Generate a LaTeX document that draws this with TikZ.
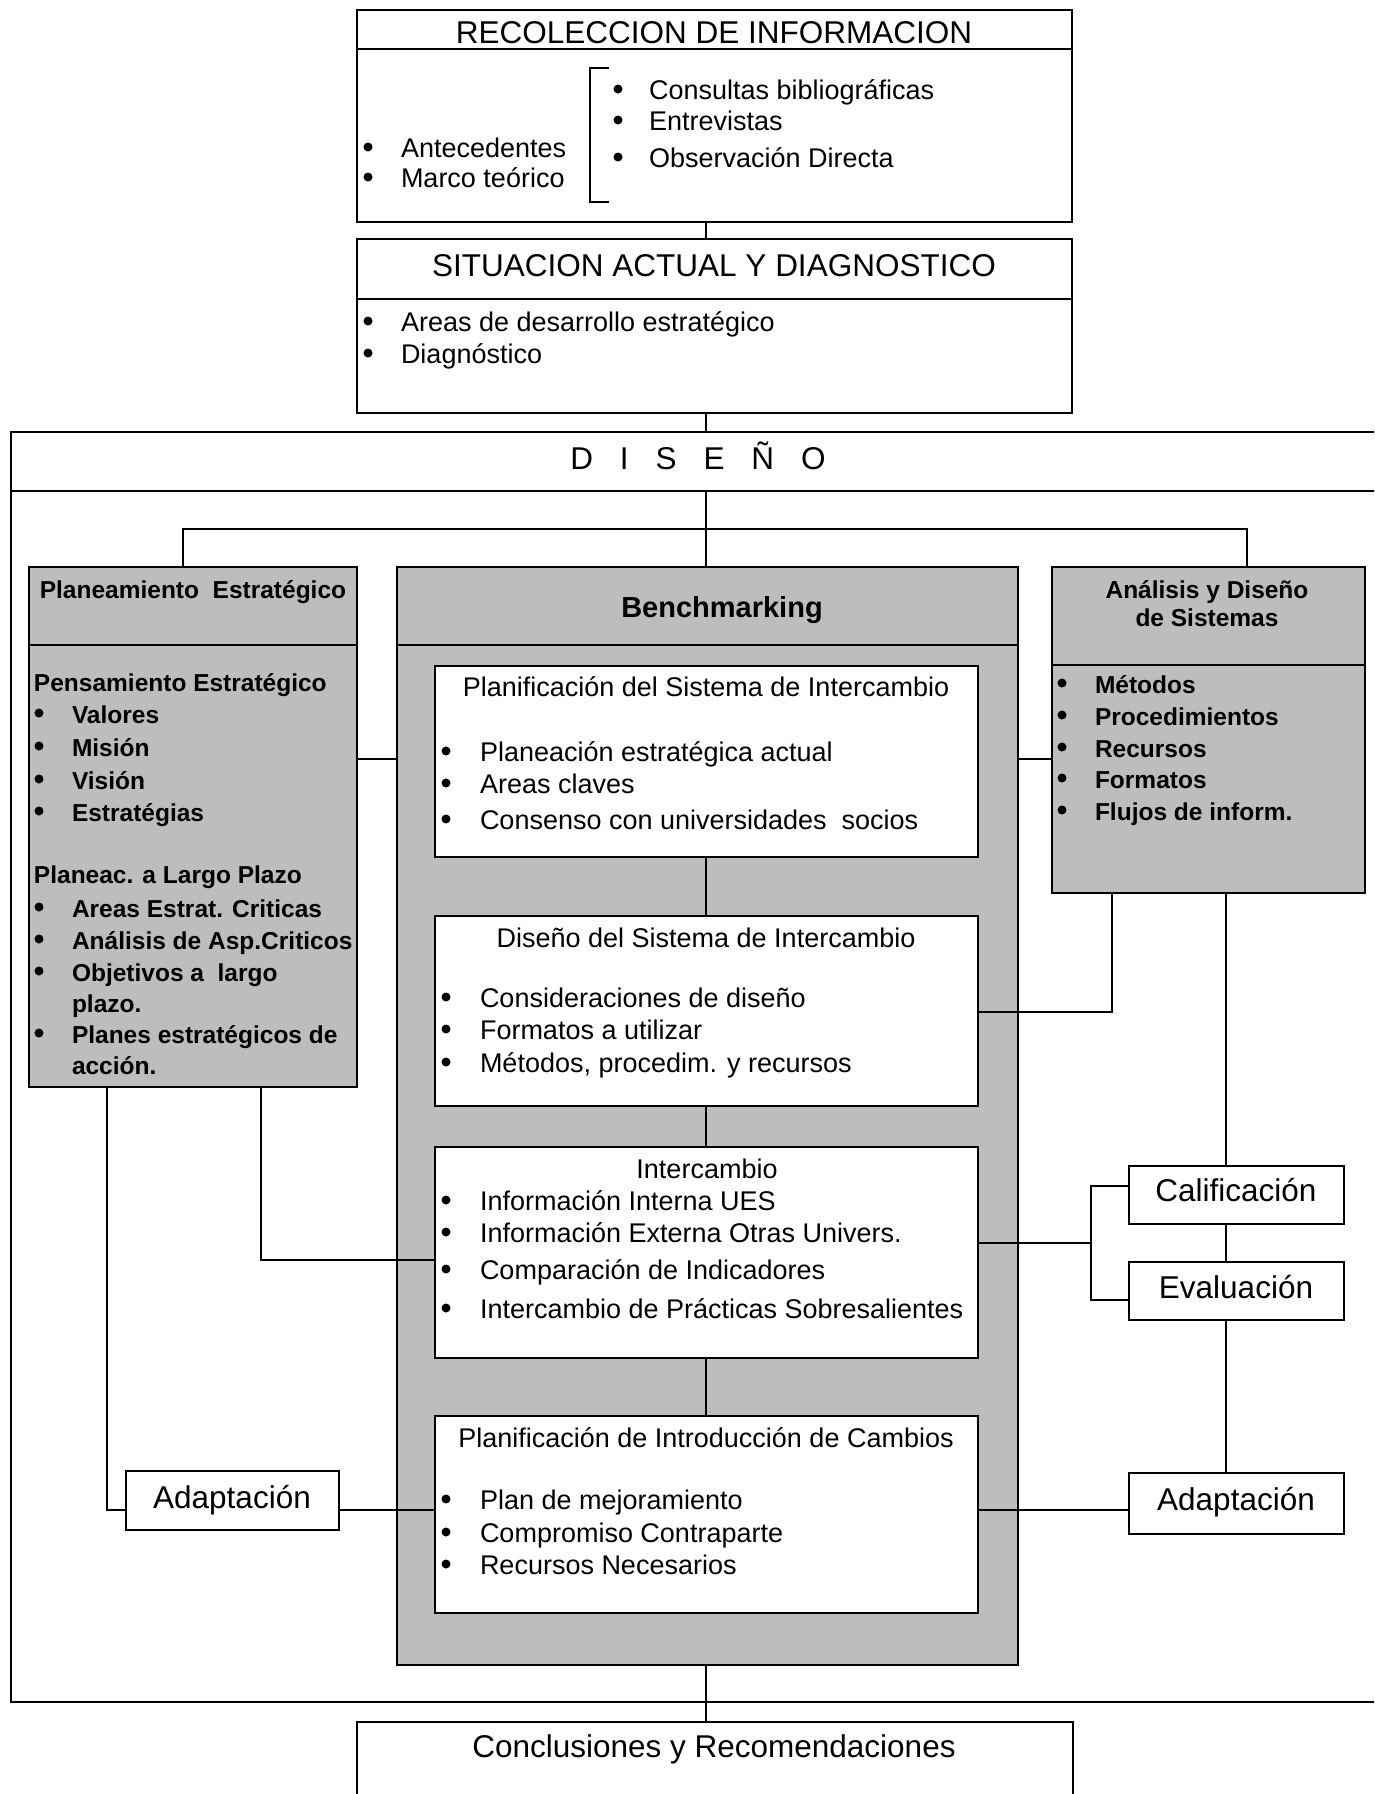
\documentclass[tikz,border=0pt]{standalone}
\usepackage{fontspec}
\setmainfont{Liberation Sans}
\newcommand\fTitle{\fontsize{31.5}{36}\selectfont}
\newcommand\fItem{\fontsize{27}{32}\selectfont}
\newcommand\fBold{\fontsize{24.5}{29}\selectfont\bfseries}
\newcommand\fBench{\fontsize{29}{34}\selectfont\bfseries}
% box given by its corners: style, x1, y1, x2, y2, name
\newcommand\boxat[6]{\node[#1, minimum width={(#4)-(#2)}, minimum height={(#5)-(#3)}] (#6) at (#2,#3) {};}
\newcommand\bul[2]{\fill (#1,#2) circle[radius=4.5pt];}
\begin{document}
\begin{tikzpicture}[x=1pt,y=-1pt,
  box/.style={draw, line width=2.8pt, rectangle, inner sep=0pt, outer sep=0pt, anchor=north west},
  hatch/.style={box, fill=black!26},
  plain/.style={box, fill=white},
  wire/.style={line width=2.3pt},
  lbl/.style={inner sep=0pt, outer sep=0pt, yshift=-7.5pt},
  head/.style={lbl, anchor=mid, font=\fTitle},
  item/.style={lbl, anchor=mid west, font=\fItem},
  ctitle/.style={lbl, anchor=mid, font=\fItem},
  bitem/.style={lbl, anchor=mid west, font=\fBold},
  btitle/.style={lbl, anchor=mid, font=\fBold},
]
\useasboundingbox (0,0) rectangle (1374,1794);
\fill[white] (0,0) rectangle (1374,1794);
\clip (0,0) rectangle (1374,1794);

% ---------- RECOLECCION DE INFORMACION ----------
\boxat{box}{357}{10}{1072}{49}{rechead}
\boxat{box}{357}{49}{1072}{222}{recbody}
\node[head] (rectitle) at (714,33) {RECOLECCION DE INFORMACION};
\bul{368}{147}\node[item] (rec1) at (401,147) {Antecedentes};
\bul{368}{177}\node[item] (rec2) at (401,177) {Marco teórico};
\draw[wire] (609,68) -- (590,68) -- (590,202) -- (609,202);
\bul{618}{89}\node[item] (rec3) at (649,89) {Consultas bibliográficas};
\bul{618}{120}\node[item] (rec4) at (649,120) {Entrevistas};
\bul{618}{157}\node[item] (rec5) at (649,157) {Observación Directa};

% ---------- SITUACION ACTUAL Y DIAGNOSTICO ----------
\boxat{box}{357}{239}{1072}{299}{sithead}
\boxat{box}{357}{299}{1072}{413}{sitbody}
\node[head] (sittitle) at (714,266) {SITUACION ACTUAL Y DIAGNOSTICO};
\bul{368}{321}\node[item] (sit1) at (401,321) {Areas de desarrollo estratégico};
\bul{368}{353}\node[item] (sit2) at (401,353) {Diagnóstico};

% ---------- DISEÑO frame ----------
\boxat{box}{11}{432}{1400}{491}{dishead}
\boxat{box}{11}{491}{1400}{1702}{disbody}
\node[head] (distitle) at (698,459) {D\hspace{26.9pt}I\hspace{26.9pt}S\hspace{26.9pt}E\hspace{26.9pt}Ñ\hspace{26.9pt}O};

% ---------- Planeamiento Estratégico ----------
\boxat{hatch}{29}{567}{357}{645}{planhead}
\boxat{hatch}{29}{645}{357}{1087}{planbody}
\node[btitle] (plantitle) at (193,588) {Planeamiento~ Estratégico};
\node[bitem] (pl0) at (34,681) {Pensamiento Estratégico};
\bul{39}{713}\node[bitem] (pl1) at (72,713) {Valores};
\bul{39}{746}\node[bitem] (pl2) at (72,746) {Misión};
\bul{39}{779}\node[bitem] (pl3) at (72,779) {Visión};
\bul{39}{811}\node[bitem] (pl4) at (72,811) {Estratégias};
\node[bitem] (pl5) at (34,873) {Planeac. a Largo Plazo};
\bul{39}{907}\node[bitem] (pl6) at (72,907) {Areas Estrat. Criticas};
\bul{39}{939}\node[bitem] (pl7) at (72,939) {Análisis de Asp.Criticos};
\bul{39}{971}\node[bitem] (pl8) at (72,971) {Objetivos a~ largo};
\node[bitem] (pl9) at (72,1002) {plazo.};
\bul{39}{1033}\node[bitem] (pl10) at (72,1033) {Planes estratégicos de};
\node[bitem] (pl11) at (72,1064) {acción.};

% ---------- Benchmarking ----------
\boxat{hatch}{397}{567}{1018}{645}{benchhead}
\boxat{hatch}{397}{645}{1018}{1665}{benchbody}
\node[lbl, anchor=mid, font=\fBench] (benchtitle) at (722,607) {Benchmarking};

\boxat{plain}{435}{666}{978}{857}{planif}
\node[ctitle] (planiftitle) at (706,686) {Planificación del Sistema de Intercambio};
\bul{446}{751}\node[item] (pf1) at (480,751) {Planeación estratégica actual};
\bul{446}{783}\node[item] (pf2) at (480,783) {Areas claves};
\bul{446}{819}\node[item] (pf3) at (480,819) {Consenso con universidades~ socios};

\boxat{plain}{435}{916}{978}{1106}{disen}
\node[ctitle] (disentitle) at (706,937) {Diseño del Sistema de Intercambio};
\bul{446}{997}\node[item] (ds1) at (480,997) {Consideraciones de diseño};
\bul{446}{1029}\node[item] (ds2) at (480,1029) {Formatos a utilizar};
\bul{446}{1062}\node[item] (ds3) at (480,1062) {Métodos, procedim. y recursos};

\boxat{plain}{435}{1147}{978}{1358}{inter}
\node[ctitle] (intertitle) at (707,1168) {Intercambio};
\bul{446}{1200}\node[item] (in1) at (480,1200) {Información Interna UES};
\bul{446}{1232}\node[item] (in2) at (480,1232) {Información Externa Otras Univers.};
\bul{446}{1269}\node[item] (in3) at (480,1269) {Comparación de Indicadores};
\bul{446}{1308}\node[item] (in4) at (480,1308) {Intercambio de Prácticas Sobresalientes};

\boxat{plain}{435}{1416}{978}{1613}{cambio}
\node[ctitle] (cambiotitle) at (706,1437) {Planificación de Introducción de Cambios};
\bul{446}{1499}\node[item] (cb1) at (480,1499) {Plan de mejoramiento};
\bul{446}{1532}\node[item] (cb2) at (480,1532) {Compromiso Contraparte};
\bul{446}{1564}\node[item] (cb3) at (480,1564) {Recursos Necesarios};

% ---------- Análisis y Diseño de Sistemas ----------
\boxat{hatch}{1052}{567}{1365}{665}{anahead}
\boxat{hatch}{1052}{665}{1365}{893}{anabody}
\node[btitle] (anatitle1) at (1207,588) {Análisis y Diseño};
\node[btitle] (anatitle2) at (1207,616) {de Sistemas};
\bul{1062}{683}\node[bitem] (an1) at (1095,683) {Métodos};
\bul{1062}{715}\node[bitem] (an2) at (1095,715) {Procedimientos};
\bul{1062}{747}\node[bitem] (an3) at (1095,747) {Recursos};
\bul{1062}{778}\node[bitem] (an4) at (1095,778) {Formatos};
\bul{1062}{810}\node[bitem] (an5) at (1095,810) {Flujos de inform.};

% ---------- side boxes ----------
\boxat{box}{1129}{1166}{1344}{1224}{calif}
\node[head] (califtext) at (1236,1191) {Calificación};
\boxat{box}{1129}{1262}{1344}{1320}{eval}
\node[head] (evaltext) at (1236,1288) {Evaluación};
\boxat{box}{1129}{1473}{1344}{1534}{adapR}
\node[head] (adapRtext) at (1236,1500) {Adaptación};
\boxat{box}{126}{1471}{339}{1530}{adapL}
\node[head] (adapLtext) at (232,1498) {Adaptación};

% ---------- Conclusiones ----------
\boxat{box}{357}{1722}{1073}{1830}{conc}
\node[head] (conctitle) at (714,1747) {Conclusiones y Recomendaciones};

% ---------- connectors ----------
\coordinate (axis) at (706,0);
\coordinate (busL) at (183,529);
\coordinate (busR) at (1247,529);
\coordinate (row1) at (0,759);
\coordinate (ana1) at (1112,1012);
\coordinate (ana2) at (1226,0);
\coordinate (fork) at (1091,1243);
\coordinate (fk1) at (1091,1186);
\coordinate (fk2) at (1091,1300);
\coordinate (l1) at (107,1510);
\coordinate (l2) at (261,1260);

\draw[wire] (recbody.south -| axis) -- (sithead.north -| axis);
\draw[wire] (sitbody.south -| axis) -- (dishead.north -| axis);
\draw[wire] (dishead.south -| axis) -- (axis |- busL);
\draw[wire] (planhead.north -| busL) -- (busL) -- (busR) -- (anahead.north -| busR);
\draw[wire] (axis |- busL) -- (benchhead.north -| axis);

\draw[wire] (planbody.east |- row1) -- (benchbody.west |- row1);
\draw[wire] (benchbody.east |- row1) -- (anabody.west |- row1);

\draw[wire] (planif.south -| axis) -- (disen.north -| axis);
\draw[wire] (disen.south -| axis) -- (inter.north -| axis);
\draw[wire] (inter.south -| axis) -- (cambio.north -| axis);

\draw[wire] (anabody.south -| ana1) |- (disen.east |- ana1);
\draw[wire] (anabody.south -| ana2) -- (calif.north -| ana2);
\draw[wire] (calif.south -| ana2) -- (eval.north -| ana2);
\draw[wire] (eval.south -| ana2) -- (adapR.north -| ana2);

\draw[wire] (inter.east |- fork) -- (fork);
\draw[wire] (calif.west |- fk1) -- (fk1) -- (fk2) -- (eval.west |- fk2);

\draw[wire] (planbody.south -| l1) |- (adapL.west |- l1);
\draw[wire] (adapL.east |- l1) -- (cambio.west |- l1);
\draw[wire] (planbody.south -| l2) |- (inter.west |- l2);
\draw[wire] (cambio.east |- l1) -- (adapR.west |- l1);

\draw[wire] (benchbody.south -| axis) -- (conc.north -| axis);
\end{tikzpicture}
\end{document}
